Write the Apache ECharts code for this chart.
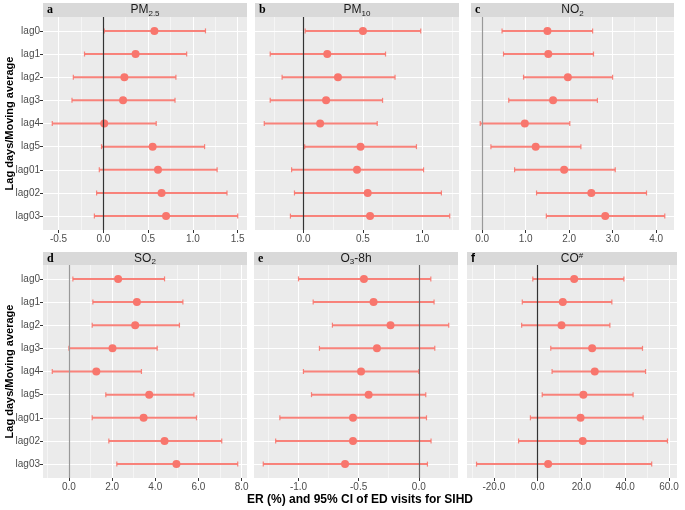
<!DOCTYPE html>
<html>
<head>
<meta charset="utf-8">
<script src="https://cdn.jsdelivr.net/npm/echarts@6/dist/echarts.min.js"></script>
<style>html,body{margin:0;padding:0;background:#fff}#c{width:685px;height:510px}</style>
</head>
<body>
<div id="c"></div>
<script>
// ---- data ----
const cats = ['lag0','lag1','lag2','lag3','lag4','lag5','lag01','lag02','lag03'];

const pm25Est  = [0.57, 0.36, 0.235, 0.22, 0.01, 0.55, 0.61, 0.65, 0.70];
const pm25Low  = [0.01, -0.21, -0.335, -0.35, -0.57, -0.02, -0.045, -0.075, -0.10];
const pm25High = [1.14, 0.93, 0.81, 0.80, 0.59, 1.13, 1.27, 1.38, 1.50];

const pm10Est  = [0.50, 0.20, 0.29, 0.19, 0.14, 0.48, 0.45, 0.54, 0.56];
const pm10Low  = [0.014, -0.28, -0.18, -0.28, -0.33, 0.01, -0.10, -0.076, -0.11];
const pm10High = [0.986, 0.69, 0.77, 0.665, 0.62, 0.95, 1.01, 1.16, 1.23];

const no2Est  = [1.50, 1.52, 1.97, 1.63, 0.98, 1.23, 1.885, 2.51, 2.83];
const no2Low  = [0.456, 0.49, 0.95, 0.61, -0.046, 0.20, 0.745, 1.25, 1.475];
const no2High = [2.54, 2.56, 3.00, 2.65, 2.015, 2.27, 3.06, 3.78, 4.20];

const so2Est  = [2.28, 3.15, 3.07, 2.02, 1.27, 3.72, 3.46, 4.43, 4.98];
const so2Low  = [0.185, 1.11, 1.08, 0.0, -0.77, 1.71, 1.08, 1.85, 2.22];
const so2High = [4.43, 5.28, 5.12, 4.09, 3.36, 5.79, 5.91, 7.08, 7.82];

const o3Est  = [-0.456, -0.376, -0.235, -0.348, -0.48, -0.417, -0.547, -0.547, -0.613];
const o3Low  = [-1.0, -0.878, -0.718, -0.826, -0.959, -0.892, -1.155, -1.19, -1.293];
const o3High = [0.10, 0.127, 0.249, 0.133, 0.0, 0.058, 0.064, 0.102, 0.072];

const coEst  = [16.7, 11.5, 10.9, 24.9, 26.1, 20.9, 19.6, 20.6, 4.8];
const coLow  = [-2.2, -7.0, -7.3, 6.0, 6.6, 2.1, -3.3, -8.7, -27.9];
const coHigh = [39.4, 33.9, 33.0, 47.9, 49.3, 43.6, 48.2, 59.3, 52.1];

const pm25Ticks = [-0.5, 0, 0.5, 1.0, 1.5];
const pm10Ticks = [0, 0.5, 1.0];
const no2Ticks  = [0, 1, 2, 3, 4];
const so2Ticks  = [0, 2, 4, 6, 8];
const o3Ticks   = [-1.0, -0.5, 0];
const coTicks   = [-20, 0, 20, 40, 60];

const yTitle = 'Lag days/Moving average';
const xTitle = 'ER (%) and 95% CI of ED visits for SIHD';

// ---- panel setup (layout/style) ----
const FONT = 'Liberation Sans, Arial, sans-serif';
const panels = [
  {letter:'a', title:'{m|PM}{s|2.5}', est:pm25Est, low:pm25Low, high:pm25High, ticks:pm25Ticks, box:[43,17,204,213], vline:'#333333', letterFont:'Liberation Serif'},
  {letter:'b', title:'{m|PM}{s|10}', est:pm10Est, low:pm10Low, high:pm10High, ticks:pm10Ticks, box:[255,17,204,213], vline:'#333333', letterFont:'Liberation Serif'},
  {letter:'c', title:'{m|NO}{s|2}', est:no2Est, low:no2Low, high:no2High, ticks:no2Ticks, box:[471,17,203,213], vline:'#999999', letterFont:'Liberation Serif'},
  {letter:'d', title:'{m|SO}{s|2}', est:so2Est, low:so2Low, high:so2High, ticks:so2Ticks, box:[43,265,204,213], vline:'#999999', letterFont:'Liberation Serif'},
  {letter:'e', title:'{m|O}{s|3}{m|-8h}', est:o3Est, low:o3Low, high:o3High, ticks:o3Ticks, box:[254,265,204,213], vline:'#666666', letterFont:'Liberation Serif'},
  {letter:'f', title:'{m|CO}{p|#}', est:coEst, low:coLow, high:coHigh, ticks:coTicks, box:[467,265,210,213], vline:'#333333', letterFont:'Liberation Sans'}
];

const COLOR = '#F8766D';
const grids = [], xAxes = [], yAxes = [], series = [], graphics = [];

panels.forEach((p, i) => {
  const [L, T, W, H] = p.box;
  const lo = Math.min(...p.low), hi = Math.max(...p.high);
  const pad = (hi - lo) * 0.05;
  const mn = lo - pad, mx = hi + pad;
  const step = p.ticks[1] - p.ticks[0];
  const minor = [];
  for (let k = -1; k < p.ticks.length; k++) {
    const v = p.ticks[0] + (k + 0.5) * step;
    if (v > mn && v < mx) minor.push(v);
  }
  const leftCol = (i % 3 === 0);
  grids.push({left: L, top: T, width: W, height: H, show: true, backgroundColor: '#EBEBEB', borderWidth: 0, containLabel: false, outerBoundsMode: 'none'});
  xAxes.push({
    type: 'value', gridIndex: i, min: mn, max: mx, position: 'bottom',
    axisLine: {show: false, onZero: false},
    axisTick: {show: true, customValues: p.ticks, length: 3, lineStyle: {color: '#333333', width: 1}},
    axisLabel: {show: true, customValues: p.ticks, formatter: v => v.toFixed(1), color: '#4D4D4D', fontSize: 10, margin: 4, fontFamily: FONT},
    splitLine: {show: true, lineStyle: {color: '#FFFFFF', width: 1}}
  });
  xAxes.push({
    type: 'value', gridIndex: i, min: mn, max: mx, position: 'top',
    axisLine: {show: false, onZero: false},
    axisTick: {show: false, customValues: minor},
    axisLabel: {show: false, customValues: minor},
    splitLine: {show: true, lineStyle: {color: '#FFFFFF', width: 0.5}}
  });
  const idx = cats.map((c, j) => j);
  yAxes.push({
    type: 'value', gridIndex: i, min: -0.6, max: 8.6, inverse: true,
    axisLine: {show: false, onZero: false},
    axisTick: {show: leftCol, customValues: idx, length: 3, lineStyle: {color: '#333333', width: 1}},
    axisLabel: {show: leftCol, customValues: idx, formatter: v => cats[Math.round(v)] || '', color: '#4D4D4D', fontSize: 10, margin: 3, fontFamily: FONT},
    splitLine: {show: true, lineStyle: {color: '#FFFFFF', width: 1}}
  });
  series.push({
    type: 'custom', xAxisIndex: 2 * i, yAxisIndex: i, z: 3,
    data: p.low.map((l, j) => [l, p.high[j], j]),
    encode: {x: [0, 1], y: 2},
    renderItem: (params, api) => {
      const y = api.value(2);
      const a = api.coord([api.value(0), y]);
      const b = api.coord([api.value(1), y]);
      const c = 2.5;
      const st = {stroke: COLOR, lineWidth: 2, opacity: 0.9};
      return {type: 'group', children: [
        {type: 'line', shape: {x1: a[0], y1: a[1], x2: b[0], y2: b[1]}, style: st},
        {type: 'line', shape: {x1: a[0], y1: a[1] - c, x2: a[0], y2: a[1] + c}, style: {stroke: COLOR, lineWidth: 1.2, opacity: 0.9}},
        {type: 'line', shape: {x1: b[0], y1: b[1] - c, x2: b[0], y2: b[1] + c}, style: {stroke: COLOR, lineWidth: 1.2, opacity: 0.9}}
      ]};
    }
  });
  series.push({
    type: 'scatter', xAxisIndex: 2 * i, yAxisIndex: i, z: 4,
    data: p.est.map((e, j) => [e, j]),
    symbol: 'circle', symbolSize: 8,
    itemStyle: {color: COLOR, opacity: 1},
    markLine: {
      silent: true, symbol: ['none', 'none'], label: {show: false},
      lineStyle: {color: p.vline, width: 1.2, type: 'solid'},
      data: [{xAxis: 0}], animation: false
    }
  });
  // strip
  const sTop = T - (i < 3 ? 14 : 13);
  graphics.push({type: 'rect', shape: {x: L, y: sTop, width: W, height: T - sTop}, style: {fill: '#D9D9D9'}, silent: true});
  graphics.push({type: 'text', x: L + W / 2, y: (sTop + T) / 2, silent: true,
    style: {text: p.title, align: 'center', verticalAlign: 'middle', fill: '#1A1A1A',
      rich: {
        m: {fontSize: 12, fontFamily: FONT, fill: '#1A1A1A'},
        s: {fontSize: 8, fontFamily: FONT, fill: '#1A1A1A', padding: [7, 0, 0, 0]},
        p: {fontSize: 8, fontFamily: FONT, fill: '#1A1A1A', padding: [0, 0, 5, 0]}
      }}});
  graphics.push({type: 'text', x: L + 4, y: (sTop + T) / 2, silent: true,
    style: {text: p.letter, align: 'left', verticalAlign: 'middle', fill: '#000', fontSize: 12, fontWeight: 'bold', fontFamily: p.letterFont}});
  if (leftCol) {
    graphics.push({type: 'text', x: 10, y: T + H / 2, rotation: Math.PI / 2, silent: true,
      style: {text: yTitle, align: 'center', verticalAlign: 'middle', fill: '#000', fontSize: 11, fontWeight: 'bold', fontFamily: FONT}});
  }
});

graphics.push({type: 'text', x: 360, y: 500, silent: true,
  style: {text: xTitle, align: 'center', verticalAlign: 'middle', fill: '#000', fontSize: 12, fontWeight: 'bold', fontFamily: FONT}});

const chart = echarts.init(document.getElementById('c'), null, {renderer: 'canvas'});
chart.setOption({
  animation: false,
  backgroundColor: '#FFFFFF',
  textStyle: {fontFamily: FONT},
  grid: grids, xAxis: xAxes, yAxis: yAxes, series: series,
  graphic: graphics
});
</script>
</body>
</html>
